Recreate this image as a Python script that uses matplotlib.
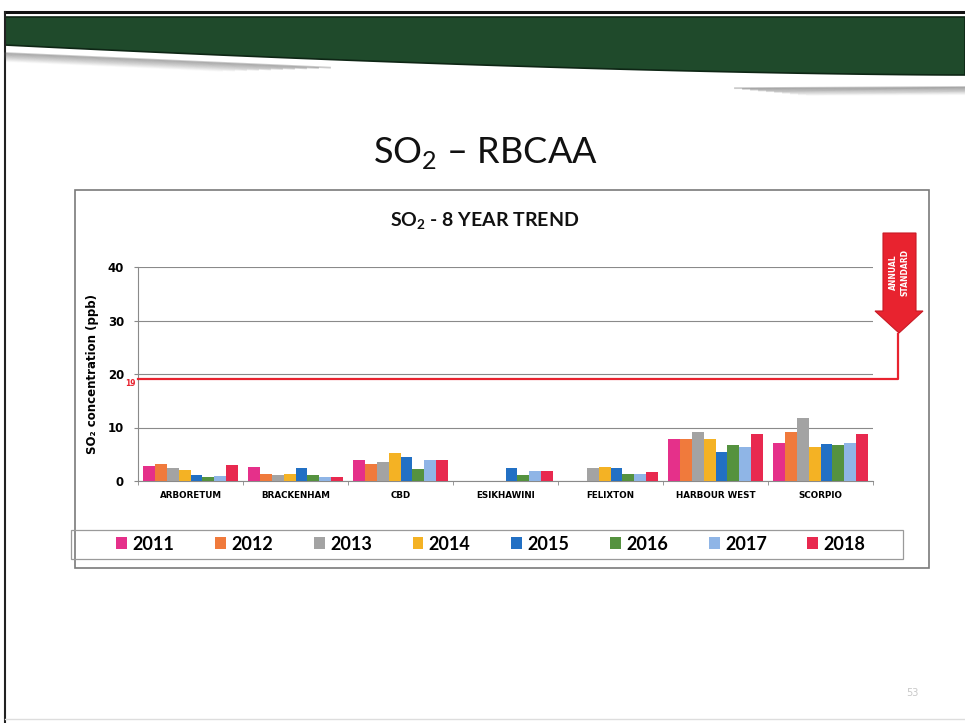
import matplotlib.pyplot as plt
import numpy as np
from matplotlib.patches import Rectangle, Polygon

plt.rcParams['mathtext.fontset'] = 'custom'
plt.rcParams['mathtext.rm'] = 'Lato'
plt.rcParams['mathtext.bf'] = 'Lato:bold'

sites = ["ARBORETUM", "BRACKENHAM", "CBD", "ESIKHAWINI", "FELIXTON",
         "HARBOUR WEST", "SCORPIO"]
years = ["2011", "2012", "2013", "2014", "2015", "2016", "2017", "2018"]

so2_2011 = [2.8, 2.7, 4.0, 0.0, 0.0, 7.9, 7.1]
so2_2012 = [3.1, 1.4, 3.1, 0.0, 0.0, 7.9, 9.2]
so2_2013 = [2.4, 1.1, 3.5, 0.0, 2.4, 9.1, 11.7]
so2_2014 = [2.0, 1.4, 5.3, 0.0, 2.7, 7.9, 6.3]
so2_2015 = [1.2, 2.5, 4.4, 2.5, 2.5, 5.5, 6.9]
so2_2016 = [0.8, 1.05, 2.2, 1.1, 1.4, 6.7, 6.7]
so2_2017 = [1.0, 0.75, 4.0, 1.8, 1.3, 6.4, 7.1]
so2_2018 = [3.0, 0.75, 3.9, 1.8, 1.7, 8.8, 8.8]

annual_standard = 19
yticks = [0, 10, 20, 30, 40]

series = [so2_2011, so2_2012, so2_2013, so2_2014,
          so2_2015, so2_2016, so2_2017, so2_2018]
colors = ['#e5308a', '#f07a3c', '#a3a3a3', '#f4b224',
          '#2270c4', '#55923f', '#8fb5e6', '#e8294f']

W, H = 965, 723
fig = plt.figure(figsize=(W / 100, H / 100), dpi=100)
fig.patch.set_facecolor('white')

# slide decoration drawn in pixel space
bg = fig.add_axes([0, 0, 1, 1], zorder=0)
bg.set_xlim(0, W)
bg.set_ylim(H, 0)
bg.axis('off')

bg.plot([5, W], [12, 12], color='#111111', lw=2.2)
bg.plot([5, 5], [12, H], color='#222222', lw=1.5)
bg.plot([5, W], [719, 719], color='#dddddd', lw=1)

xs = np.linspace(5, W, 60)
lower = 45 + 30 * (1 - (1 - (xs - 5) / (W - 5)) ** 1.6)
green = Polygon(np.vstack([np.column_stack([xs, np.full_like(xs, 17)]),
                           np.column_stack([xs[::-1], lower[::-1]])]),
                closed=True, facecolor='#1f4a2b', edgecolor='#0e2615', lw=1.2)
bg.add_patch(green)

# grey swooshes under the banner
for k in range(10):
    a = 0.55 * (1 - k / 10)
    xl = np.linspace(5, 330 - k * 12, 30)
    bg.plot(xl, 53 + 0.9 * k + (xl - 5) * 0.045, color='#555555', alpha=a * 0.55, lw=1.3)
    xr = np.linspace(735 + k * 8, W, 30)
    bg.plot(xr, 87 + 0.8 * k + (W - xr) * 0.005, color='#555555', alpha=a * 0.55, lw=1.3)

bg.text(485, 153, r"SO$_2$ – RBCAA", fontsize=26, family='Lato',
        ha='center', va='center', color='#111111')

# chart frame and legend frame
bg.add_patch(Rectangle((75, 190), 854, 378, fill=False, edgecolor='#7a7a7a', lw=1.2))
bg.add_patch(Rectangle((71, 530), 832, 29, fill=False, edgecolor='#9a9a9a', lw=0.9))
bg.text(485, 221, r"SO$_\mathbf{2}$ - 8 YEAR TREND", fontsize=14, family='Lato',
        fontweight='bold', ha='center', va='center', color='#111111')
bg.text(912, 693, "53", fontsize=7, color='#c8c8c8', ha='center', va='center')

# annual standard marker
arrow = Polygon([(883, 233), (916, 233), (916, 311), (923, 311), (899, 333),
                 (875, 311), (883, 311)], closed=True,
                facecolor='#e8232f', edgecolor='#c81a25', lw=0.8)
bg.add_patch(arrow)
bg.text(899, 272, "ANNUAL\nSTANDARD", rotation=90, color='white', fontsize=5.5,
        fontweight='bold', ha='center', va='center', linespacing=1.3)

# bar chart
ax = fig.add_axes([138 / W, 1 - 481 / H, 735 / W, 214 / H], zorder=2)
ax.patch.set_alpha(0)
x = np.arange(len(sites))
w = 0.112
for i, (vals, c, yr) in enumerate(zip(series, colors, years)):
    ax.bar(x + (i - 3.5) * w, vals, w, color=c, label=yr, zorder=3)

ax.set_xlim(-0.5, len(sites) - 0.5)
ax.set_ylim(0, 40)
ax.set_yticks(yticks)
ax.set_yticklabels([str(t) for t in yticks], fontweight='bold', fontsize=8.5)
ax.set_xticks(x)
ax.set_xticklabels(sites, fontweight='bold', fontsize=6.3)
ax.set_xticks(np.arange(len(sites) + 1) - 0.5, minor=True)
ax.tick_params(axis='x', which='major', length=0, pad=7)
ax.tick_params(axis='x', which='minor', length=3, color='#888888')
ax.tick_params(axis='y', length=3, color='#888888', pad=7)
ax.grid(axis='y', color='#8a8a8a', lw=0.8, zorder=1)
for s in ['top', 'right']:
    ax.spines[s].set_visible(False)
for s in ['left', 'bottom']:
    ax.spines[s].set_color('#8a8a8a')
ax.set_ylabel("SO₂ concentration (ppb)", fontweight='bold', fontsize=8.5, labelpad=6)

# standard line running out to the arrow
x_end = 6.74
ax.plot([-0.5, x_end, x_end], [annual_standard, annual_standard, 27.5],
        color='#e8232f', lw=1.6, clip_on=False, zorder=4)
ax.text(-0.52, annual_standard - 0.7, str(annual_standard), color='#e8232f',
        fontsize=5.5, fontweight='bold', ha='right', va='center')

handles, labels = ax.get_legend_handles_labels()
fig.legend(handles, labels, loc='center', bbox_to_anchor=(491 / W, 1 - 544 / H),
           ncol=8, frameon=False, handlelength=0.6, handleheight=0.6,
           handletextpad=0.3, columnspacing=2.25,
           prop={'family': 'Lato', 'weight': 'bold', 'size': 13})

fig.savefig('out.png', dpi=100)
